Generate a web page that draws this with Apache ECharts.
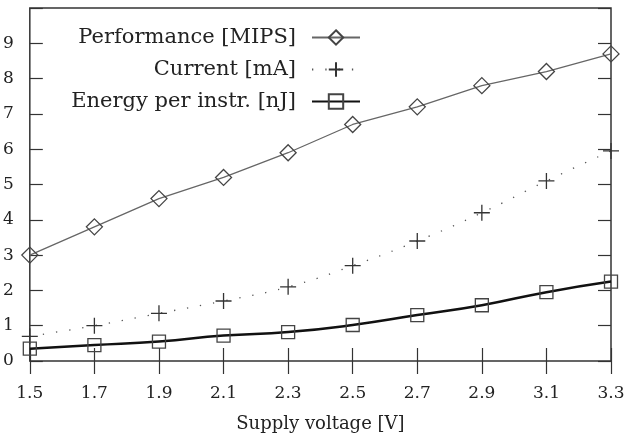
<!DOCTYPE html>
<html>
<head>
<meta charset="utf-8">
<script src="https://cdn.jsdelivr.net/npm/echarts@6/dist/echarts.min.js"></script>
<style>
  html, body { margin: 0; padding: 0; background: #fff; }
  #chart { width: 629px; height: 438px; }
</style>
</head>
<body>
<div id="chart"></div>
<script>
var voltage = ['1.5', '1.7', '1.9', '2.1', '2.3', '2.5', '2.7', '2.9', '3.1', '3.3']
var performance = [3.0, 3.8, 4.6, 5.2, 5.9, 6.7, 7.2, 7.8, 8.2, 8.7]
var current = [0.7, 1.0, 1.35, 1.7, 2.1, 2.7, 3.4, 4.2, 5.1, 5.95]
var energy = [0.35, 0.45, 0.55, 0.72, 0.82, 1.02, 1.3, 1.58, 1.95, 2.25]

var font = '"DejaVu Serif", "Liberation Serif", serif'
var frame = '#333'
var tick = { show: true, inside: true, length: 13, lineStyle: { color: frame, width: 1.2 } }

var mychart = echarts.init(document.getElementById('chart'))

var option = {
    animation: false,
    textStyle: { fontFamily: font },
    grid: { left: 29, right: 18, top: 8, bottom: 75, show: true, borderColor: frame, borderWidth: 1.5 },
    legend: {
        orient: 'vertical',
        right: 263,
        top: 22,
        align: 'right',
        itemWidth: 48,
        itemHeight: 18,
        itemGap: 11,
        textStyle: { fontFamily: font, fontSize: 21, color: '#222', padding: [0, 11, 0, 0] },
        data: ['Performance [MIPS]', 'Current [mA]', 'Energy per instr. [nJ]']
    },
    xAxis: [
        {
            type: 'category',
            data: voltage,
            boundaryGap: false,
            name: 'Supply voltage [V]',
            nameLocation: 'middle',
            nameGap: 54,
            nameTextStyle: { fontFamily: font, fontSize: 18, color: '#222' },
            axisLine: { show: false },
            axisTick: tick,
            axisLabel: { margin: 24, fontSize: 17, color: '#222', fontFamily: font }
        },
        {
            type: 'category',
            data: voltage,
            boundaryGap: false,
            position: 'top',
            axisLine: { show: false },
            axisTick: tick,
            axisLabel: { show: false }
        }
    ],
    yAxis: [
        {
            type: 'value',
            min: 0,
            max: 10,
            interval: 1,
            splitLine: { show: false },
            axisLine: { show: false },
            axisTick: tick,
            axisLabel: {
                margin: 16, fontSize: 17, color: '#222', fontFamily: font,
                formatter: function (v) { return v === 10 ? '' : String(v) }
            }
        },
        {
            type: 'value',
            min: 0,
            max: 10,
            interval: 1,
            position: 'right',
            splitLine: { show: false },
            axisLine: { show: false },
            axisTick: tick,
            axisLabel: { show: false }
        }
    ],
    series: [
        {
            name: 'Performance [MIPS]',
            type: 'line',
            data: performance,
            symbol: 'diamond',
            symbolSize: [16, 16],
            lineStyle: { color: '#666', width: 1.3 },
            itemStyle: { color: 'rgba(0,0,0,0)', borderColor: '#444', borderWidth: 1.3 },
            z: 3
        },
        {
            name: 'Current [mA]',
            type: 'line',
            data: current,
            smooth: true,
            symbol: 'path://M0,5 L10,5 M5,0 L5,10',
            symbolSize: 16,
            lineStyle: { color: '#555', width: 1.3, type: [1.3, 12] },
            itemStyle: { color: 'rgba(0,0,0,0)', borderColor: '#333', borderWidth: 1.3 },
            z: 2
        },
        {
            name: 'Energy per instr. [nJ]',
            type: 'line',
            data: energy,
            smooth: true,
            symbol: 'rect',
            symbolSize: 13,
            lineStyle: { color: '#111', width: 2.5 },
            itemStyle: { color: 'rgba(0,0,0,0)', borderColor: '#444', borderWidth: 1.3 },
            z: 4
        }
    ]
}

mychart.setOption(option)
</script>
</body>
</html>
